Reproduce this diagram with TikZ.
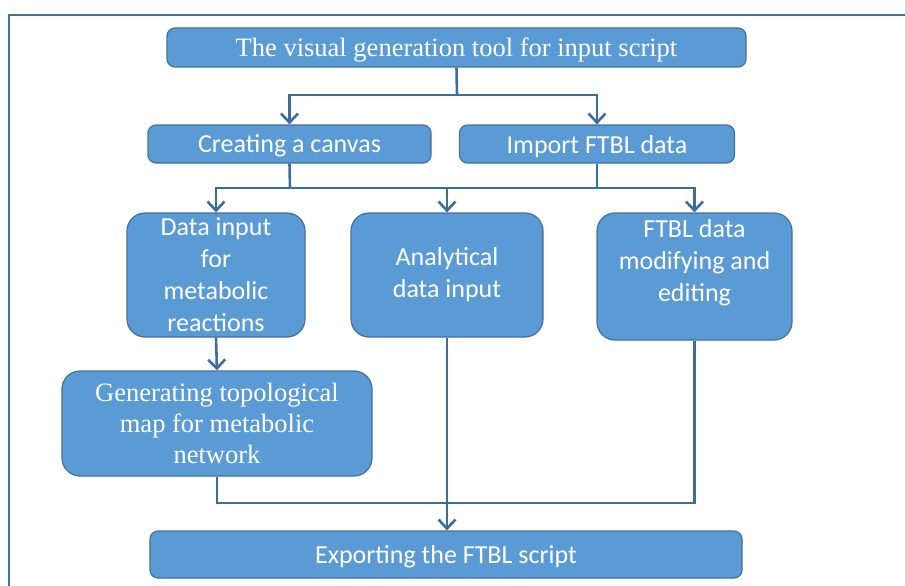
\documentclass[tikz,border=0pt]{standalone}
\usepackage{fontspec}
\setmainfont{Liberation Serif}
\newfontfamily\calibri{Carlito}
\usetikzlibrary{arrows.meta}
\definecolor{boxfill}{HTML}{5B9BD5}
\definecolor{boxline}{HTML}{41719C}
\definecolor{flowline}{HTML}{3D6D9D}

\begin{document}
\begin{tikzpicture}[x=1pt,y=-1pt,
	box/.style={draw=boxline, line width=1.2pt, fill=boxfill, text=white, align=center, inner sep=0pt},
	slim/.style={box, rounded corners=8pt, text depth=0pt},
	tall/.style={box, rounded corners=18pt},
	serif/.style={font=\fontsize{26.5}{31}\selectfont},
	sans/.style={font=\calibri\fontsize{26}{32}\selectfont},
	link/.style={draw=flowline, line width=2.6pt},
	flow/.style={link, -{Straight Barb[length=9pt,width=17pt]}}]
	\useasboundingbox (0,0) rectangle (905,586);
	\draw[boxline, line width=2pt] (9,586) -- (9,15) -- (905,15);

	\node[slim,serif,minimum width=579pt,minimum height=39pt] at (456.5,47.5)(top){The visual generation tool for input script};
	\node[slim,sans,minimum width=283pt,minimum height=38pt] at (289.5,144)(canvas){Creating a canvas};
	\node[slim,sans,minimum width=275pt,minimum height=38pt] at (597,144)(import){Import FTBL data};
	\node[tall,sans,minimum width=178pt,minimum height=124pt] at (216,275)(datain){Data input\\for\\metabolic\\reactions};
	\node[tall,sans,minimum width=192pt,minimum height=124pt] at (447,275)(analytic){Analytical\\data input};
	\node[tall,sans,minimum width=195pt,minimum height=127pt,text depth=32pt] at (694.5,276.5)(modify){FTBL data\\modifying and\\editing};
	\node[tall,serif,minimum width=310pt,minimum height=105pt] at (217,423.5)(topomap){Generating topological\\map for metabolic\\network};
	\node[slim,sans,minimum width=592pt,minimum height=47pt] at (446,554.5)(export){Exporting the FTBL script};

	\coordinate (split1) at (457,95);
	\coordinate (split2) at (290,188);
	\coordinate (merge) at (446,503);

	\path[link] (top.south) -- (split1);
	\path[flow] (split1) -| (canvas.north);
	\path[flow] (split1) -| (import.north);
	\path[link] (canvas.south) -- (split2);
	\path[link] (import.south) -- (import.south |- split2);
	\path[flow] (split2) -| (datain.north);
	\path[flow] (split2) -| (analytic.north);
	\path[flow] (split2) -| (modify.north);
	\path[flow] (datain.south) -- (topomap.north);
	\path[link] (topomap.south) |- (modify.south |- merge) -- (modify.south);
	\path[flow] (analytic.south) -- (analytic.south |- export.north);
\end{tikzpicture}
\end{document}
